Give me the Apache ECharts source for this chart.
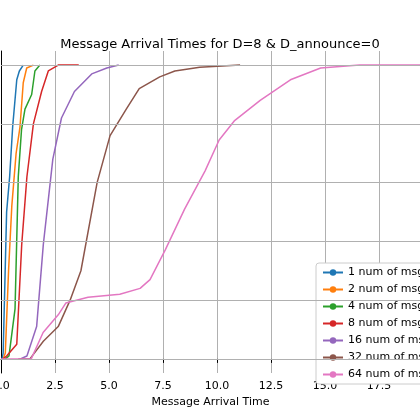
<!DOCTYPE html><html><head><meta charset="utf-8"><script src="https://cdn.jsdelivr.net/npm/echarts@6/dist/echarts.min.js"></script></head><body style="margin:0"><div id="c" style="width:420px;height:420px"></div><script>
const names=['1 num of msgs','2 num of msgs','4 num of msgs','8 num of msgs','16 num of msgs','32 num of msgs','64 num of msgs'];
const colors=['#1f77b4','#ff7f0e','#2ca02c','#d62728','#9467bd','#8c564b','#e377c2'];
const s1=[[0.05,0],[0.1,0.02],[0.26,0.5],[0.4,0.62],[0.54,0.79],[0.73,0.95],[0.85,0.98],[1.03,1]];
const s2=[[0.1,0],[0.2,0.02],[0.35,0.3],[0.5,0.52],[0.7,0.7],[0.88,0.79],[1.03,0.94],[1.19,0.99],[1.5,1]];
const s4=[[0.2,0],[0.37,0.01],[0.65,0.17],[0.8,0.62],[0.95,0.78],[1.11,0.85],[1.42,0.9],[1.57,0.98],[1.8,1]];
const s8=[[0.1,0],[0.26,0.01],[0.73,0.05],[0.96,0.39],[1.2,0.62],[1.5,0.8],[1.88,0.91],[2.19,0.98],[2.65,1],[3.6,1]];
const s16=[[0.9,0],[1.2,0.01],[1.65,0.11],[1.96,0.39],[2.4,0.68],[2.8,0.82],[3.4,0.91],[4.2,0.97],[4.9,0.99],[5.45,1]];
const s32=[[0.8,0],[1.34,0],[1.96,0.06],[2.65,0.11],[3.2,0.2],[3.7,0.3],[4.45,0.6],[5.05,0.76],[5.8,0.85],[6.4,0.92],[7.35,0.96],[8.05,0.98],[9.2,0.993],[11.07,1]];
const s64=[[0,0],[1.4,0],[1.95,0.09],[2.65,0.15],[3.0,0.19],[4.03,0.21],[5.5,0.22],[6.44,0.24],[6.9,0.27],[7.6,0.37],[8.5,0.51],[9.45,0.64],[10.1,0.745],[10.8,0.81],[12,0.88],[13.4,0.95],[14.8,0.99],[16.6,1],[20,1]];
const data=[s1,s2,s4,s8,s16,s32,s64];
const xTicks=[0,2.5,5,7.5,10,12.5,15,17.5];
const c=echarts.init(document.getElementById('c'));
c.setOption({animation:false,color:colors,
title:{text:'Message Arrival Times for D=8 & D_announce=0',left:215,top:33,textAlign:'center',textStyle:{fontFamily:'DejaVu Sans',fontSize:13,fontWeight:'normal',color:'#000'}},
legend:{orient:'vertical',left:316,top:263,itemWidth:20,itemHeight:8,itemGap:6,padding:[4,6],backgroundColor:'#fff',borderColor:'#ccc',borderWidth:1,borderRadius:3,textStyle:{fontFamily:'DejaVu Sans',fontSize:11,color:'#000'},data:names},
grid:{left:1,right:0,top:51,bottom:47,outerBoundsMode:'none',containLabel:false},
xAxis:{type:'value',min:0,max:19.4,interval:2.5,name:'Message Arrival Time',nameLocation:'middle',nameGap:22,nameTextStyle:{fontFamily:'DejaVu Sans',fontSize:11,color:'#000'},
axisLine:{lineStyle:{color:'#000'}},axisTick:{show:true,length:4,lineStyle:{color:'#000'}},
axisLabel:{showMaxLabel:false,fontFamily:'DejaVu Sans',fontSize:11,color:'#000',formatter:v=>xTicks.includes(v)?v.toFixed(1):''},
splitLine:{lineStyle:{color:'#b0b0b0'}}},
yAxis:{type:'value',min:-0.048,max:1.048,axisLabel:{show:false},axisTick:{show:false},axisLine:{show:true,lineStyle:{color:'#000'}},splitLine:{show:false}},
series:data.map((d,i)=>({name:names[i],type:'line',data:d,symbol:'none',itemStyle:{color:colors[i]},lineStyle:{width:1.5,color:colors[i]},
 markLine:i===0?{symbol:'none',silent:true,label:{show:false},lineStyle:{color:'#b0b0b0',type:'solid',width:1},data:[0,0.2,0.4,0.6,0.8,1].map(v=>({yAxis:v}))}:undefined}))
});
</script></body></html>
